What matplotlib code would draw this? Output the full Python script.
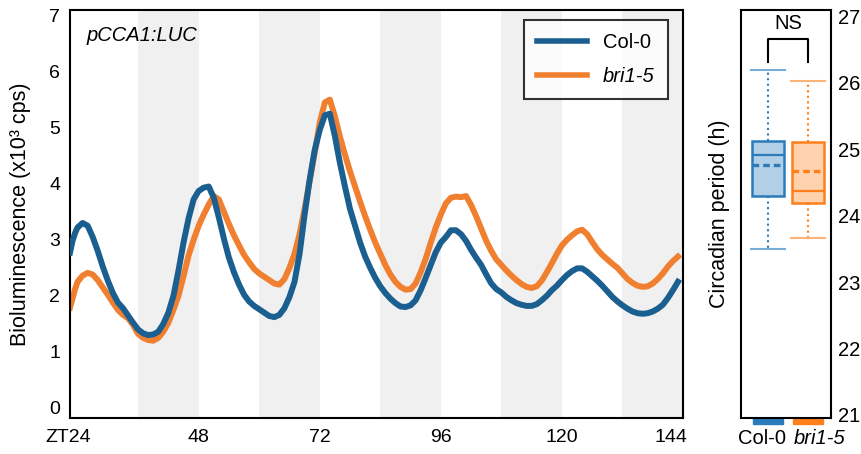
import numpy as np
import matplotlib
matplotlib.use("Agg")
import matplotlib.pyplot as plt
from matplotlib.patches import Rectangle
import matplotlib.transforms as mtransforms

plt.rcParams['font.family'] = ['Liberation Sans', 'DejaVu Sans']

# ---- data ----
zt = [22.5, 23, 23.5] + list(range(24, 144))

col0 = [2.77, 2.98, 3.12,
        3.22, 3.30, 3.25, 3.05, 2.80, 2.52, 2.27, 2.05, 1.88, 1.78,
        1.65, 1.52, 1.40, 1.33, 1.30, 1.31, 1.36, 1.50, 1.70, 2.00,
        2.45, 2.95, 3.38, 3.72, 3.87, 3.93, 3.95, 3.75, 3.40, 3.02,
        2.68, 2.42, 2.20, 2.02, 1.90, 1.82, 1.76, 1.70, 1.64, 1.62,
        1.66, 1.78, 1.98, 2.25, 2.75, 3.45, 4.07, 4.60, 4.96, 5.22,
        5.25, 4.85, 4.37, 3.95, 3.55, 3.25, 2.95, 2.70, 2.50, 2.32,
        2.17, 2.05, 1.95, 1.87, 1.81, 1.80, 1.83, 1.92, 2.10, 2.32,
        2.55, 2.78, 2.95, 3.05, 3.17, 3.17, 3.10, 2.98, 2.82, 2.68,
        2.55, 2.38, 2.22, 2.12, 2.06, 1.98, 1.92, 1.87, 1.84, 1.82,
        1.82, 1.85, 1.92, 2.00, 2.10, 2.18, 2.28, 2.37, 2.44, 2.49,
        2.49, 2.43, 2.35, 2.27, 2.18, 2.08, 1.98, 1.90, 1.83, 1.77,
        1.72, 1.69, 1.68, 1.69, 1.72, 1.77, 1.84, 1.96, 2.10, 2.25]

bri15 = [1.79, 1.95, 2.12,
         2.25, 2.36, 2.41, 2.38, 2.28, 2.15, 2.02, 1.88, 1.75, 1.66,
         1.60, 1.48, 1.32, 1.25, 1.21, 1.20, 1.25, 1.36, 1.52, 1.75,
         2.00, 2.35, 2.72, 3.00, 3.25, 3.45, 3.63, 3.78, 3.72, 3.50,
         3.28, 3.08, 2.90, 2.73, 2.60, 2.48, 2.40, 2.34, 2.28, 2.22,
         2.20, 2.30, 2.50, 2.75, 3.10, 3.55, 4.05, 4.55, 5.09, 5.45,
         5.50, 5.20, 4.84, 4.52, 4.22, 3.95, 3.68, 3.42, 3.18, 2.95,
         2.75, 2.55, 2.38, 2.25, 2.16, 2.11, 2.12, 2.22, 2.42, 2.66,
         2.95, 3.22, 3.45, 3.65, 3.75, 3.77, 3.76, 3.78, 3.62, 3.42,
         3.20, 2.98, 2.80, 2.65, 2.55, 2.45, 2.36, 2.28, 2.21, 2.16,
         2.14, 2.17, 2.27, 2.42, 2.58, 2.75, 2.90, 3.00, 3.08, 3.15,
         3.18, 3.10, 2.96, 2.83, 2.73, 2.65, 2.57, 2.50, 2.40, 2.30,
         2.23, 2.18, 2.16, 2.17, 2.22, 2.30, 2.40, 2.52, 2.62, 2.70]

night_start = [36, 60, 84, 108, 132]
night_len = 12

xticks = [24, 48, 72, 96, 120, 144]
xticklabels = ['ZT24', '48', '72', '96', '120', '144']

genotypes = ['Col-0', 'bri1-5']
# whislo, q1, med, mean, q3, whishi
period_stats = [
    [23.50, 24.30, 24.91, 24.76, 25.13, 26.19],
    [23.67, 24.19, 24.37, 24.68, 25.11, 26.03],
]

line_colors = ['#1b5f90', '#f0802f']
box_edge = ['#2b7bba', '#ff7f1a']
box_face = ['#b3cfe7', '#ffd2ae']
cap_colors = ['#78abd6', '#ffb377']

W, H = 862, 454
fig = plt.figure(figsize=(W / 100, H / 100), dpi=100)

# ---- main bioluminescence panel ----
ax = fig.add_axes([70 / W, 36 / H, 613 / W, 408 / H])
for s in night_start:
    ax.axvspan(s, s + night_len, color='#f0f0f0', lw=0, zorder=0)
ax.plot(zt, col0, color=line_colors[0], lw=4.3, label='Col-0', zorder=3)
ax.plot(zt, bri15, color=line_colors[1], lw=4.3, label='bri1-5', zorder=2)

ax.set_xlim(22.5, 144)
ax.set_ylim(-0.18, 7.1)
ax.set_yticks(range(0, 8))
ax.set_xticks(xticks)
ax.set_xticklabels(xticklabels)
ax.tick_params(length=0, labelsize=14)
ax.tick_params(axis='y', pad=7)
ax.tick_params(axis='x', pad=8)
# end labels sit a little inside in the original
xl = ax.get_xticklabels()
xl[0].set_transform(xl[0].get_transform() +
                    mtransforms.ScaledTranslation(-0.09, 0, fig.dpi_scale_trans))
xl[-1].set_transform(xl[-1].get_transform() +
                     mtransforms.ScaledTranslation(-0.12, 0, fig.dpi_scale_trans))
for sp in ax.spines.values():
    sp.set_linewidth(1.5)
ax.set_ylabel('Bioluminescence (x10³ cps)', fontsize=15.5, labelpad=13)
ax.text(0.027, 0.962, 'pCCA1:LUC', transform=ax.transAxes, fontsize=14.5,
        style='italic', va='top')

leg = ax.legend(loc='upper right', bbox_to_anchor=(0.9755, 0.9755),
                borderaxespad=0, fancybox=False, edgecolor='black',
                fontsize=14.5, handlelength=2.5, labelspacing=0.75,
                borderpad=0.65, handletextpad=0.8)
leg.get_frame().set_linewidth(1.5)
leg.get_texts()[1].set_fontstyle('italic')
for h in leg.get_lines():
    h.set_linewidth(4)

# ---- period box plot panel ----
ax2 = fig.add_axes([741 / W, 36 / H, 90 / W, 408 / H])
stats = []
for g, (lo, q1, med, mean, q3, hi) in zip(genotypes, period_stats):
    stats.append(dict(label=g, whislo=lo, q1=q1, med=med, mean=mean,
                      q3=q3, whishi=hi, fliers=[]))
bp = ax2.bxp(stats, positions=[1, 2], widths=0.8, patch_artist=True,
             showmeans=True, meanline=True, showfliers=False)
for i in range(2):
    bp['boxes'][i].set_facecolor(box_face[i])
    bp['boxes'][i].set_edgecolor(box_edge[i])
    bp['boxes'][i].set_linewidth(1.8)
    bp['medians'][i].set_color(box_edge[i])
    bp['medians'][i].set_linewidth(1.6)
    bp['means'][i].set_color(box_edge[i])
    bp['means'][i].set_linewidth(2.4)
    bp['means'][i].set_linestyle((0, (2, 1.2)))
    for w in bp['whiskers'][2 * i:2 * i + 2]:
        w.set_color(box_edge[i])
        w.set_linestyle(':')
        w.set_linewidth(1.5)
    for c in bp['caps'][2 * i:2 * i + 2]:
        c.set_color(cap_colors[i])
        c.set_linewidth(1.5)
        c.set_xdata([i + 1 - 0.42, i + 1 + 0.42])

ax2.set_xlim(0.325, 2.575)
ax2.set_ylim(20.95, 27.1)
ax2.set_yticks(range(21, 28))
ax2.yaxis.tick_right()
ax2.yaxis.set_label_position('left')
ax2.set_ylabel('Circadian period (h)', fontsize=15.5, labelpad=8)
ax2.set_xticks([0.85, 2.3])
ax2.set_xticklabels(genotypes)
ax2.get_xticklabels()[1].set_fontstyle('italic')
ax2.tick_params(length=0, labelsize=14.5)
ax2.tick_params(axis='y', pad=5)
ax2.tick_params(axis='x', pad=8)
for sp in ax2.spines.values():
    sp.set_linewidth(1.5)

# significance bracket
ax2.plot([1, 1, 2, 2], [26.31, 26.67, 26.67, 26.31], color='black', lw=1.5)
ax2.text(1.5, 26.9, 'NS', ha='center', va='center', fontsize=14.5)

# colour keys under the boxes
trans = mtransforms.blended_transform_factory(ax2.transData, ax2.transAxes)
for i in range(2):
    ax2.add_patch(Rectangle((i + 1 - 0.375, -0.014), 0.75, 0.011,
                            transform=trans, color=box_edge[i], clip_on=False))

fig.savefig('out.png', dpi=100)
